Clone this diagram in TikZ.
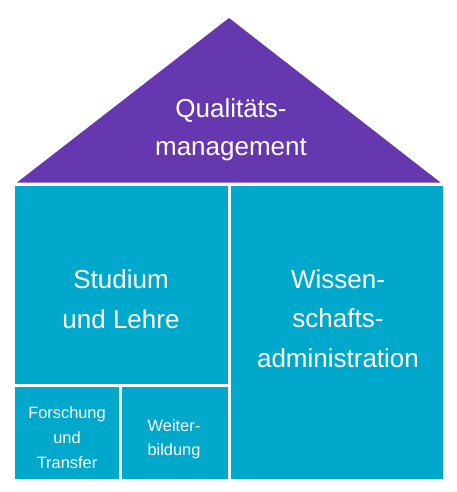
\documentclass[tikz,border=0pt]{standalone}
\usepackage{fontspec}
\setmainfont{Liberation Sans}
\definecolor{roof}{RGB}{101,56,176}
\definecolor{wall}{RGB}{0,168,204}
\begin{document}
\begin{tikzpicture}[x=1pt,y=-1pt,
  bigtxt/.style={text=white,font=\fontsize{26}{40}\selectfont,align=center,anchor=base,inner sep=0pt},
  smalltxt/.style={text=white,font=\fontsize{16.4}{25}\selectfont,align=center,anchor=base,inner sep=0pt}]
\useasboundingbox (0,0) rectangle (456,492);
\fill[white] (0,0) rectangle (456,492);
% roof
\fill[roof] (17,182.5) -- (229,18) -- (440.5,182.5) -- cycle;
% boxes
\fill[wall] (15,186) rectangle (228,384);
\fill[wall] (15,387) rectangle (119,479);
\fill[wall] (122,387) rectangle (228,479);
\fill[wall] (231,186) rectangle (443,479);
% texts (anchor = baseline of last line)
\node[bigtxt,font=\fontsize{26}{38}\selectfont] (qm) at (231,155) {Qualitäts-\\management};
\node[bigtxt] (sl) at (121,328) {Studium\\und Lehre};
\node[bigtxt,font=\fontsize{26}{39.5}\selectfont] (wa) at (338,367) {Wissen-\\schafts-\\administration};
\node[smalltxt] (ft) at (67,468) {Forschung\\und\\Transfer};
\node[smalltxt,font=\fontsize{16.4}{24}\selectfont] (wb) at (174,455) {Weiter-\\bildung};
\end{tikzpicture}
\end{document}
